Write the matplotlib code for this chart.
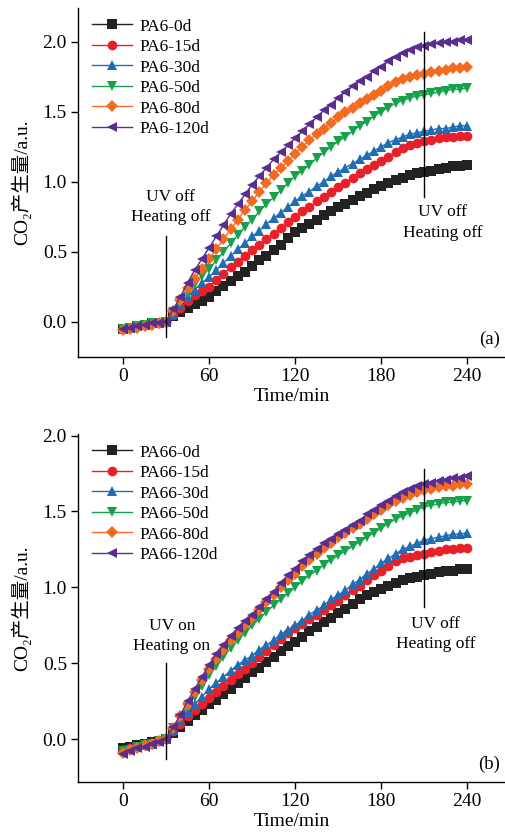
import matplotlib
matplotlib.use("Agg")
import matplotlib.pyplot as plt
import numpy as np

plt.rcParams['font.family'] = ['Liberation Serif', 'Noto Sans CJK SC', 'DejaVu Sans']

time = list(range(0, 241, 5))

labels_a = ["PA6-0d", "PA6-15d", "PA6-30d", "PA6-50d", "PA6-80d", "PA6-120d"]
labels_b = ["PA66-0d", "PA66-15d", "PA66-30d", "PA66-50d", "PA66-80d", "PA66-120d"]

a_0d = [-0.05, -0.04, -0.03, -0.02, -0.01, -0.005, 0.00, 0.04, 0.07, 0.10, 0.13, 0.15, 0.18,
        0.22, 0.26, 0.29, 0.33, 0.36, 0.40, 0.44, 0.47, 0.51, 0.55, 0.60, 0.64,
        0.67, 0.70, 0.73, 0.76, 0.79, 0.82, 0.84, 0.87, 0.90, 0.92, 0.95, 0.97,
        0.99, 1.01, 1.03, 1.05, 1.06, 1.07, 1.08, 1.09, 1.10, 1.11, 1.115, 1.12]
a_15d = [-0.05, -0.04, -0.03, -0.02, -0.01, -0.005, 0.00, 0.05, 0.10, 0.15, 0.19, 0.22, 0.25,
         0.30, 0.34, 0.39, 0.43, 0.47, 0.51, 0.55, 0.59, 0.63, 0.67, 0.71, 0.75,
         0.79, 0.82, 0.86, 0.89, 0.93, 0.96, 0.99, 1.03, 1.06, 1.09, 1.12, 1.15,
         1.18, 1.21, 1.24, 1.26, 1.28, 1.29, 1.30, 1.31, 1.32, 1.32, 1.33, 1.33]
a_30d = [-0.05, -0.04, -0.03, -0.02, -0.01, -0.005, 0.00, 0.06, 0.12, 0.18, 0.23, 0.28, 0.32,
         0.37, 0.42, 0.47, 0.52, 0.56, 0.61, 0.65, 0.70, 0.74, 0.78, 0.82, 0.86,
         0.90, 0.93, 0.97, 1.00, 1.04, 1.07, 1.10, 1.13, 1.16, 1.19, 1.22, 1.25,
         1.28, 1.30, 1.32, 1.34, 1.35, 1.36, 1.37, 1.38, 1.38, 1.39, 1.40, 1.40]
a_50d = [-0.05, -0.04, -0.03, -0.02, -0.01, -0.005, 0.00, 0.07, 0.14, 0.21, 0.27, 0.33, 0.38,
         0.44, 0.50, 0.56, 0.62, 0.68, 0.73, 0.79, 0.84, 0.89, 0.94, 0.99, 1.04,
         1.08, 1.12, 1.17, 1.21, 1.25, 1.29, 1.32, 1.36, 1.40, 1.43, 1.47, 1.50,
         1.53, 1.56, 1.58, 1.60, 1.61, 1.62, 1.63, 1.64, 1.65, 1.66, 1.66, 1.67]
a_80d = [-0.06, -0.05, -0.04, -0.03, -0.02, -0.01, 0.00, 0.08, 0.16, 0.24, 0.31, 0.38, 0.45,
         0.52, 0.59, 0.66, 0.73, 0.80, 0.86, 0.93, 0.99, 1.05, 1.10, 1.15, 1.20,
         1.25, 1.30, 1.34, 1.38, 1.42, 1.46, 1.50, 1.53, 1.56, 1.59, 1.62, 1.65,
         1.68, 1.71, 1.73, 1.75, 1.76, 1.77, 1.78, 1.79, 1.80, 1.81, 1.81, 1.82]
a_120d = [-0.05, -0.04, -0.03, -0.02, -0.01, -0.005, 0.00, 0.09, 0.18, 0.28, 0.37, 0.45, 0.53,
          0.61, 0.69, 0.77, 0.84, 0.91, 0.98, 1.04, 1.10, 1.16, 1.21, 1.26, 1.31,
          1.36, 1.41, 1.46, 1.51, 1.55, 1.60, 1.64, 1.68, 1.72, 1.75, 1.79, 1.82,
          1.86, 1.89, 1.92, 1.94, 1.96, 1.97, 1.98, 1.99, 2.00, 2.00, 2.01, 2.01]

b_0d = [-0.06, -0.05, -0.04, -0.03, -0.02, -0.01, 0.00, 0.04, 0.08, 0.12, 0.16, 0.19, 0.23,
        0.26, 0.30, 0.33, 0.37, 0.40, 0.44, 0.47, 0.51, 0.54, 0.58, 0.61, 0.64,
        0.67, 0.71, 0.74, 0.77, 0.80, 0.83, 0.86, 0.89, 0.92, 0.95, 0.97, 0.99,
        1.01, 1.03, 1.05, 1.06, 1.07, 1.08, 1.09, 1.10, 1.11, 1.11, 1.12, 1.12]
b_15d = [-0.07, -0.06, -0.05, -0.04, -0.03, -0.01, 0.00, 0.05, 0.10, 0.15, 0.19, 0.23, 0.27,
         0.31, 0.35, 0.39, 0.43, 0.46, 0.50, 0.54, 0.58, 0.62, 0.66, 0.70, 0.73,
         0.76, 0.79, 0.82, 0.85, 0.88, 0.91, 0.95, 0.98, 1.01, 1.05, 1.08, 1.11,
         1.14, 1.17, 1.19, 1.20, 1.21, 1.22, 1.23, 1.24, 1.25, 1.25, 1.26, 1.26]
b_30d = [-0.07, -0.06, -0.05, -0.04, -0.03, -0.01, 0.00, 0.06, 0.12, 0.18, 0.23, 0.28, 0.33,
         0.37, 0.41, 0.45, 0.49, 0.52, 0.55, 0.59, 0.62, 0.65, 0.69, 0.72, 0.75,
         0.78, 0.82, 0.85, 0.88, 0.92, 0.95, 0.98, 1.02, 1.05, 1.09, 1.12, 1.16,
         1.19, 1.22, 1.25, 1.27, 1.29, 1.31, 1.32, 1.33, 1.34, 1.35, 1.35, 1.36]
b_50d = [-0.08, -0.07, -0.05, -0.04, -0.03, -0.01, 0.00, 0.07, 0.14, 0.21, 0.28, 0.35, 0.42,
         0.48, 0.54, 0.60, 0.65, 0.70, 0.75, 0.79, 0.84, 0.88, 0.92, 0.96, 1.00,
         1.04, 1.08, 1.11, 1.15, 1.18, 1.21, 1.24, 1.27, 1.30, 1.33, 1.36, 1.39,
         1.42, 1.45, 1.47, 1.49, 1.51, 1.53, 1.54, 1.55, 1.56, 1.56, 1.57, 1.57]
b_80d = [-0.09, -0.07, -0.06, -0.04, -0.03, -0.01, 0.00, 0.07, 0.15, 0.23, 0.31, 0.39, 0.46,
         0.53, 0.59, 0.65, 0.70, 0.75, 0.80, 0.85, 0.90, 0.95, 1.00, 1.05, 1.09,
         1.14, 1.18, 1.22, 1.26, 1.29, 1.33, 1.36, 1.39, 1.42, 1.45, 1.48, 1.51,
         1.54, 1.57, 1.59, 1.61, 1.63, 1.64, 1.65, 1.66, 1.67, 1.67, 1.68, 1.68]
b_120d = [-0.10, -0.08, -0.06, -0.05, -0.03, -0.02, 0.00, 0.08, 0.16, 0.25, 0.33, 0.41, 0.49,
          0.56, 0.62, 0.68, 0.73, 0.78, 0.82, 0.87, 0.92, 0.97, 1.03, 1.08, 1.12,
          1.17, 1.21, 1.25, 1.29, 1.32, 1.35, 1.38, 1.41, 1.44, 1.48, 1.51, 1.54,
          1.57, 1.60, 1.63, 1.65, 1.67, 1.68, 1.69, 1.70, 1.71, 1.72, 1.72, 1.73]

series_a = [a_0d, a_15d, a_30d, a_50d, a_80d, a_120d]
series_b = [b_0d, b_15d, b_30d, b_50d, b_80d, b_120d]

colors = ["#222222", "#e8202a", "#1f6db5", "#15a24a", "#f26b21", "#5a2e91"]
markers = ["s", "o", "^", "v", "D", "<"]
msizes = [6.5, 7, 7.5, 7.5, 6.5, 7.5]

fig = plt.figure(figsize=(5.06, 8.36), dpi=100)
ax1 = fig.add_axes([78/506, 1-357/836, 1-78/506, 349/836])
ax2 = fig.add_axes([78/506, 1-782/836, 1-78/506, 348/836])

def style(ax, ylim, yticks):
    for s in ["top", "right"]:
        ax.spines[s].set_visible(False)
    ax.spines["left"].set_linewidth(1.0)
    ax.spines["bottom"].set_linewidth(1.0)
    ax.set_xlim(-31.4, 267)
    ax.set_ylim(*ylim)
    ax.set_xticks([0, 60, 120, 180, 240])
    ax.set_yticks(yticks)
    ax.set_yticklabels([f"{v:.1f}" for v in yticks])
    ax.tick_params(direction="out", length=5, width=1, labelsize=14, pad=3)
    ax.set_xlabel("Time/min", fontsize=14, labelpad=2)
    ax.set_ylabel("CO\u2082产生量/a.u.", fontsize=14, labelpad=8,
                  family=['Liberation Serif', 'Noto Sans CJK SC', 'DejaVu Sans'])

for ax, series, labels in [(ax1, series_a, labels_a), (ax2, series_b, labels_b)]:
    for y, c, m, ms, lab in zip(series, colors, markers, msizes, labels):
        ax.plot(time, y, color=c, marker=m, markersize=ms, linewidth=1.0,
                markeredgewidth=0, label=lab)
    ax.legend(loc="upper left", bbox_to_anchor=(0.0, 1.01), frameon=False, fontsize=12.5,
              handlelength=2.3, handletextpad=0.45, labelspacing=0.25, borderpad=0.3)

style(ax1, (-0.25, 2.24), [0.0, 0.5, 1.0, 1.5, 2.0])
style(ax2, (-0.283, 2.01), [0.0, 0.5, 1.0, 1.5, 2.0])

# annotations (a)
ax1.plot([30, 30], [-0.11, 0.61], color="black", linewidth=1.0)
ax1.plot([210, 210], [0.89, 2.07], color="black", linewidth=1.0)
ax1.text(33, 0.82, "UV off\nHeating off", ha="center", va="center", fontsize=12.5, linespacing=1.35)
ax1.text(223, 0.71, "UV off\nHeating off", ha="center", va="center", fontsize=12.5, linespacing=1.35)
ax1.text(0.985, 0.05, "(a)", transform=ax1.transAxes, ha="right", va="center", fontsize=13.5)

# annotations (b)
ax2.plot([30, 30], [-0.13, 0.50], color="black", linewidth=1.0)
ax2.plot([210, 210], [0.87, 1.78], color="black", linewidth=1.0)
ax2.text(34, 0.68, "UV on\nHeating on", ha="center", va="center", fontsize=12.5, linespacing=1.35)
ax2.text(218, 0.69, "UV off\nHeating off", ha="center", va="center", fontsize=12.5, linespacing=1.35)
ax2.text(0.985, 0.05, "(b)", transform=ax2.transAxes, ha="right", va="center", fontsize=13.5)

fig.savefig("out.png", dpi=100)
